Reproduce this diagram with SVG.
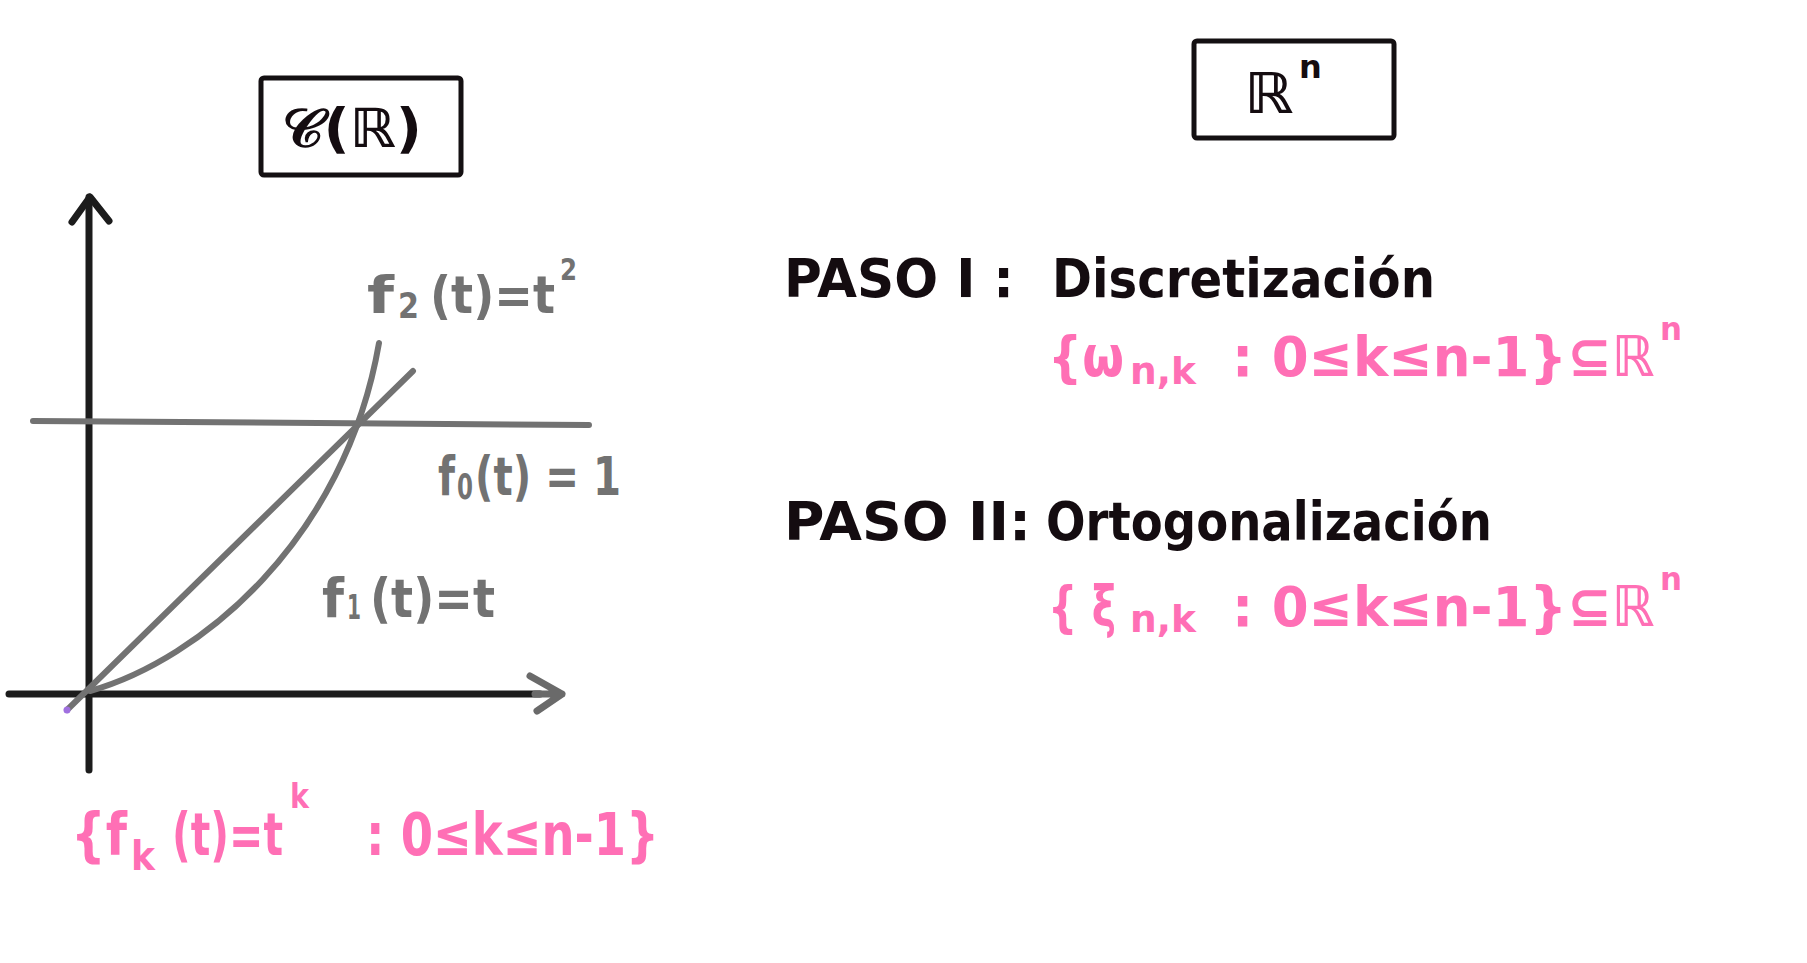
<svg xmlns="http://www.w3.org/2000/svg" width="1807" height="963" viewBox="0 0 1807 963">
<style>
.box{fill:none;stroke:#141012;stroke-width:5;stroke-linejoin:round}
.ax{fill:none;stroke:#1c1c1c;stroke-width:7;stroke-linecap:round;stroke-linejoin:round}
.gr{fill:none;stroke:#727272;stroke-width:6;stroke-linecap:round;stroke-linejoin:round}
.t{font-family:"DejaVu Sans","Noto Sans",sans-serif;font-weight:bold}
.blk{fill:#140c10}
.gry{fill:#727272}
.pnk{fill:#ff6fb5}
</style>
<rect width="1807" height="963" fill="#ffffff"/>
<g id="title-c">
<rect class="box" x="261" y="78" width="200" height="97" rx="3"/>
<text class="t blk" x="282" y="147" font-size="54" textLength="140" lengthAdjust="spacingAndGlyphs">𝒞(ℝ)</text>
</g>
<g id="title-rn">
<rect class="box" x="1194" y="41" width="200" height="97" rx="3"/>
<text class="t blk" x="1244" y="113" font-size="56" textLength="49" lengthAdjust="spacingAndGlyphs">ℝ</text>
<text class="t blk" x="1299" y="78" font-size="32">n</text>
</g>
<g id="axes">
<path class="ax" d="M89,197 L89,770"/>
<path class="ax" d="M72,222 L90,197 L109,221"/>
<path class="ax" d="M9,694 L540,694"/>
<path class="gr" d="M535,694 L562,694 M530,676 L562,694 L537,711" style="stroke:#6a6a6a;stroke-width:7"/>
</g>
<g id="curves">
<path class="gr" d="M33,421 L589,425"/>
<path class="gr" d="M67,710 L413,371"/>
<path class="gr" d="M90,691 C200,660 345,540 379,343"/>
<circle cx="67" cy="710" r="3.5" fill="#a070e0"/>
</g>
<g id="label-f2">
<text class="t gry" x="367" y="313" font-size="52" textLength="27" lengthAdjust="spacingAndGlyphs">f</text>
<text class="t gry" x="398" y="318" font-size="36" textLength="21" lengthAdjust="spacingAndGlyphs">2</text>
<text class="t gry" x="430" y="313" font-size="52" textLength="125" lengthAdjust="spacingAndGlyphs">(t)=t</text>
<text class="t gry" x="560" y="280" font-size="30" textLength="17" lengthAdjust="spacingAndGlyphs">2</text>
</g>
<g id="label-f0">
<text class="t gry" x="438" y="495" font-size="54" textLength="17" lengthAdjust="spacingAndGlyphs">f</text>
<text class="t gry" x="457" y="499" font-size="36" textLength="16" lengthAdjust="spacingAndGlyphs">0</text>
<text class="t gry" x="475" y="495" font-size="54" textLength="146" lengthAdjust="spacingAndGlyphs">(t) = 1</text>
</g>
<g id="label-f1">
<text class="t gry" x="322" y="617" font-size="54" textLength="22" lengthAdjust="spacingAndGlyphs">f</text>
<text class="t gry" x="347" y="619" font-size="34" textLength="14" lengthAdjust="spacingAndGlyphs">1</text>
<text class="t gry" x="370" y="617" font-size="54" textLength="125" lengthAdjust="spacingAndGlyphs">(t)=t</text>
</g>
<g id="label-fk">
<text class="t pnk" x="71" y="855" font-size="58" textLength="56" lengthAdjust="spacingAndGlyphs">{f</text>
<text class="t pnk" x="131" y="870" font-size="40" textLength="24" lengthAdjust="spacingAndGlyphs">k</text>
<text class="t pnk" x="172" y="855" font-size="58" textLength="111" lengthAdjust="spacingAndGlyphs">(t)=t</text>
<text class="t pnk" x="290" y="808" font-size="34" textLength="19" lengthAdjust="spacingAndGlyphs">k</text>
<text class="t pnk" x="366" y="855" font-size="58" textLength="293" lengthAdjust="spacingAndGlyphs">:  0≤k≤n-1}</text>
</g>
<g id="paso1">
<text class="t blk" x="784" y="297" font-size="54" textLength="230" lengthAdjust="spacingAndGlyphs">PASO I :</text>
<text class="t blk" x="1052" y="297" font-size="54" textLength="383" lengthAdjust="spacingAndGlyphs">Discretización</text>
<text class="t pnk" x="1048" y="376" font-size="56" textLength="76" lengthAdjust="spacingAndGlyphs">{ω</text>
<text class="t pnk" x="1130" y="384" font-size="38" textLength="66" lengthAdjust="spacingAndGlyphs">n,k</text>
<text class="t pnk" x="1232" y="376" font-size="56" textLength="422" lengthAdjust="spacingAndGlyphs">:  0≤k≤n-1}⊆ℝ</text>
<text class="t pnk" x="1660" y="340" font-size="32" textLength="22" lengthAdjust="spacingAndGlyphs">n</text>
</g>
<g id="paso2">
<text class="t blk" x="784" y="540" font-size="54" textLength="247" lengthAdjust="spacingAndGlyphs">PASO II:</text>
<text class="t blk" x="1046" y="540" font-size="54" textLength="446" lengthAdjust="spacingAndGlyphs">Ortogonalización</text>
<text class="t pnk" x="1048" y="626" font-size="56" textLength="68" lengthAdjust="spacingAndGlyphs">{ ξ</text>
<text class="t pnk" x="1130" y="632" font-size="38" textLength="66" lengthAdjust="spacingAndGlyphs">n,k</text>
<text class="t pnk" x="1232" y="626" font-size="56" textLength="422" lengthAdjust="spacingAndGlyphs">:  0≤k≤n-1}⊆ℝ</text>
<text class="t pnk" x="1660" y="590" font-size="32" textLength="22" lengthAdjust="spacingAndGlyphs">n</text>
</g>
</svg>
